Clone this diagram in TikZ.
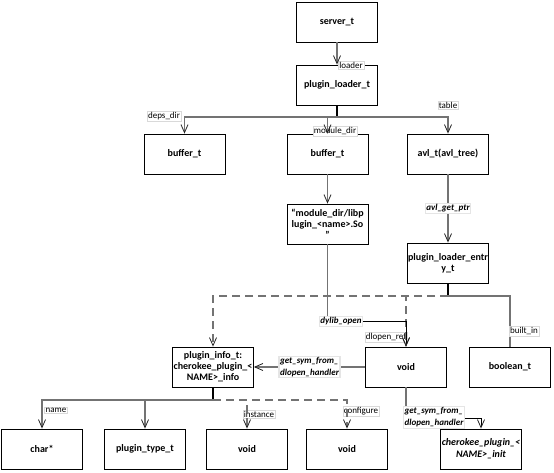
\documentclass[tikz,border=0pt]{standalone}
\usepackage{fontspec}
\setmainfont{Carlito}
\usetikzlibrary{arrows.meta}
\tikzset{
    box/.style={draw,line width=0.8pt,minimum width=81pt,minimum height=40pt,align=center,inner sep=1pt,font=\fontsize{10}{11}\selectfont\bfseries},
    lbl/.style={draw=black!15,fill=white,inner sep=1pt,font=\fontsize{9}{10}\selectfont},
    ilbl/.style={draw=black!10,fill=white,inner sep=1pt,align=left,font=\fontsize{9}{12}\selectfont\bfseries\itshape},
    conn/.style={draw=black!55,line width=1.2pt},
    bconn/.style={draw=black,line width=0.8pt},
    dconn/.style={conn,dash pattern=on 8pt off 5pt},
    tip/.style={-{Straight Barb[length=8pt,width=7pt,line width=0.8pt,color=black!85]}}
}
\begin{document}
\begin{tikzpicture}[x=1pt,y=-1pt]
                \useasboundingbox (0,0) rectangle (554,473);
                \node[box] (server) at (337,22) {server\_t};
                \node[box] (loader) at (337,85) {plugin\_loader\_t};
                \node[box] (deps) at (184.5,154) {buffer\_t};
                \node[box] (moddir) at (327.5,154) {buffer\_t};
                \node[box] (avl) at (448,154) {avl\_t(avl\_tree)};
                \node[box] (sofile) at (327.5,224) {“module\_dir/libp\\lugin\_<name>.So\\”};
                \node[box] (entry) at (448,263) {plugin\_loader\_entr\\y\_t};
                \node[box] (info) at (213,367) {plugin\_info\_t:\\cherokee\_plugin\_<\\NAME>\_info};
                \node[box] (voidm) at (406,367) {void};
                \node[box] (bool) at (510,367) {boolean\_t};
                \node[box] (charp) at (42,449) {char*};
                \node[box] (ptype) at (145,449) {plugin\_type\_t};
                \node[box] (void1) at (247,449) {void};
                \node[box] (void2) at (347,449) {void};
                \node[box,font=\fontsize{10}{12}\selectfont\bfseries\itshape] (initfn) at (481,449) {cherokee\_plugin\_<\\NAME>\_init};
                \coordinate (jload) at (337,117);
                \coordinate (jent) at (448,296);
                \coordinate (jdl) at (327.5,321);
                \coordinate (jsym) at (406,418);
                \coordinate (jinfo) at (213,400);
                \node[lbl] (ldlopen) at (386,337) {dlopen\_ref};
                \node[lbl] (lloader) at (351,65) {loader};
                \node[lbl] (lmod) at (335,131) {module\_dir};
                \node[lbl] (linst) at (259,414) {instance};
                \node[lbl] (lconf) at (361,411) {configure};
                \draw[conn,tip] (server.south) -- (loader.north);
                \draw[conn,draw=black] (loader.south) -- (jload);
                \draw[conn,tip] (jload) -| (deps.north);
                \draw[conn,tip] (jload) -| (moddir.north);
                \draw[conn,tip] (jload) -| (avl.north);
                \node[lbl] (ldeps) at (164,116) {deps\_dir};
                \node[lbl] (ltable) at (448,105) {table};
                \draw[conn,tip] (moddir.south) -- (sofile.north);
                \draw[conn,tip] (avl.south) -- node[ilbl] (lget) {avl\_get\_ptr} (entry.north);
                \draw[conn,draw=black] (entry.south) -- (jent);
                \draw[dconn,tip] (jent) -| (info.north);
                \draw[dconn,tip] (jent) -| (voidm.north);
                \draw[conn] (jent) -| (bool.north);
                \node[lbl] (lbuilt) at (524,331) {built\_in};
                \draw[conn] (sofile.south) -- (jdl);
                \draw[bconn,tip] (jdl) -| (voidm.north);
                \node[ilbl] (ldylib) at (341,321) {dylib\_open};
                \draw[conn,tip] (voidm.west) -- node[ilbl] (lsym) {get\_sym\_from\_\\dlopen\_handler} (info.east);
                \draw[conn] (voidm.south) -- (jsym);
                \draw[bconn,tip] (jsym) -| (initfn.north);
                \node[ilbl] (lsyminit) at (434,417) {get\_sym\_from\_\\dlopen\_handler};
                \draw[conn,draw=black] (info.south) -- (jinfo);
                \draw[conn,tip] (jinfo) -| (charp.north);
                \draw[conn,tip] (jinfo) -| (ptype.north);
                \draw[dconn,tip] (jinfo) -| (void1.north);
                \draw[dconn,tip] (jinfo) -| (void2.north);
                \node[lbl] (lname) at (56,410) {name};
            \end{tikzpicture}
\end{document}
